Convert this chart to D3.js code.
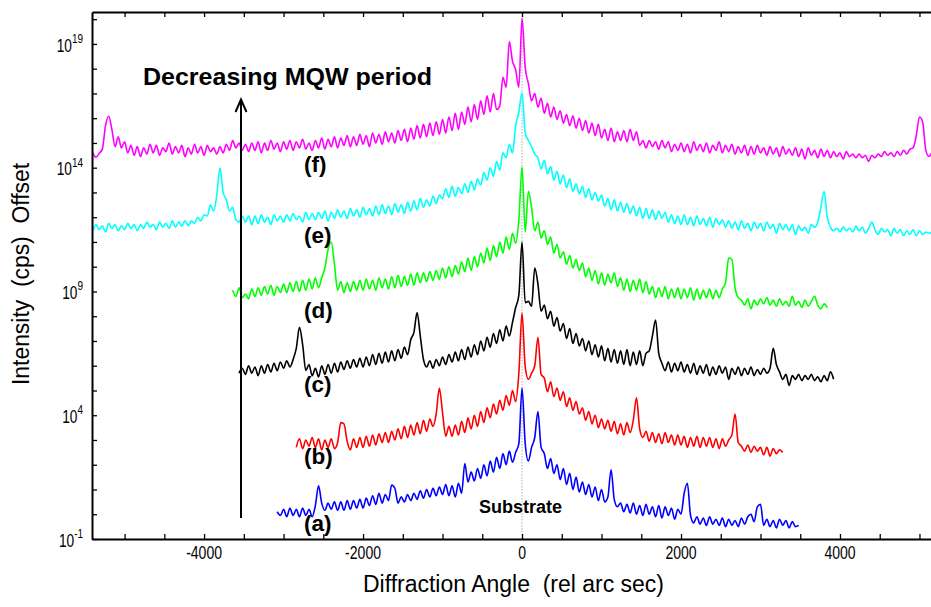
<!DOCTYPE html>
<html>
<head>
<meta charset="utf-8">
<script src="https://cdn.jsdelivr.net/npm/d3@7"></script>
<style>
  html, body { margin: 0; padding: 0; background: #fff; }
  svg { display: block; font-family: "Liberation Sans", Arial, sans-serif; }
</style>
</head>
<body>
<svg id="chart" width="931" height="607"></svg>
<script>
// ---- data -------------------------------------------------------------
// Scan grid: each curve is sampled every scanStep arc sec from its start angle.
const scanStep = 40;
const curveNames = ["(a)", "(b)", "(c)", "(d)", "(e)", "(f)"];
const curveColors = ["#0000ff", "#ff0000", "#000000", "#00ff00", "#00ffff", "#ff00ff"];
const curveStarts = [-3080, -2840, -3560, -3640, -5400, -5400];
// vertical offset applied to each scan (factor of 1000 between neighbours)
const curveOffsets = [1, 1e3, 1e6, 1e9, 1e12, 1e15];

// log10 of measured intensity (cps), one value per grid step
const logA = [
  0.10,-0.05,0.20,-0.10,0.25,-0.05,0.20,-0.10,0.25,-0.05,
  0.20,-0.10,0.35,1.15,0.45,0.15,0.45,0.20,0.50,0.15,
  0.50,0.15,0.55,0.20,0.55,0.25,0.60,0.25,0.65,0.35,
  0.75,0.40,0.85,0.45,0.80,0.55,1.18,1.05,0.45,0.70,
  0.50,0.80,0.55,0.85,0.60,0.95,0.65,1.00,0.70,1.05,
  0.75,1.10,0.80,1.20,0.75,1.15,0.70,1.25,0.85,2.05,
  1.30,1.70,1.35,1.85,1.45,2.00,1.55,2.15,1.70,2.30,
  1.85,2.45,2.00,2.55,2.10,2.50,2.85,5.10,2.85,2.15,
  2.70,3.10,4.15,2.70,2.45,1.85,2.25,1.65,2.00,1.40,
  1.85,1.20,1.65,1.00,1.50,0.90,1.30,0.80,1.20,0.70,
  1.10,0.55,1.00,0.50,0.70,1.80,0.60,0.30,0.45,0.10,
  0.40,0.05,0.45,0.00,0.35,-0.05,0.40,0.00,0.30,-0.10,
  0.35,-0.15,0.30,-0.05,0.25,-0.20,0.20,0.00,0.85,1.25,
  -0.05,-0.35,-0.10,-0.40,-0.15,-0.45,-0.10,-0.40,-0.20,-0.45,
  -0.15,-0.50,-0.20,-0.45,-0.25,-0.50,-0.15,-0.40,-0.10,0.00,
  -0.30,0.30,0.40,-0.45,-0.20,-0.50,-0.25,-0.55,-0.20,-0.45,
  -0.25,-0.55,-0.30,-0.50,-0.45
];
const logB = [
  -0.30,0.05,-0.35,0.00,-0.25,0.10,-0.30,0.05,-0.40,0.00,
  -0.30,0.05,-0.35,-0.10,0.70,0.65,-0.05,-0.40,0.05,-0.30,
  0.10,-0.30,0.15,-0.25,0.20,-0.20,0.25,-0.10,0.30,-0.10,
  0.35,0.00,0.45,0.05,0.55,0.10,0.60,0.20,0.70,0.25,
  0.80,0.35,0.85,0.55,1.05,2.10,1.10,0.15,0.55,0.15,
  0.60,0.20,0.75,0.30,0.90,0.45,1.00,0.55,1.15,0.70,
  1.30,0.90,1.45,1.05,1.60,1.20,1.80,1.40,2.00,1.55,
  2.70,5.13,2.95,2.45,2.70,3.00,4.15,2.65,2.50,1.95,
  2.35,1.75,2.10,1.60,1.95,1.35,1.70,1.20,1.55,1.05,
  1.30,0.80,1.15,0.65,1.00,0.50,0.85,0.45,0.80,0.35,
  0.75,0.25,0.65,0.20,0.70,0.30,0.80,1.70,0.45,0.10,
  0.35,-0.05,0.30,-0.10,0.25,-0.15,0.30,-0.10,0.20,-0.20,
  0.20,-0.20,0.15,-0.30,0.10,-0.25,0.15,-0.30,0.10,-0.25,
  0.10,-0.30,0.05,-0.35,0.05,-0.25,0.00,0.20,1.05,-0.10,
  -0.25,-0.45,-0.20,-0.50,-0.25,-0.45,-0.30,-0.60,-0.30,-0.65,
  -0.35,-0.55,-0.40,-0.50
];
const logC = [
  -0.30,-0.10,-0.35,0.00,-0.30,-0.05,-0.40,0.00,-0.30,0.05,
  -0.25,0.10,-0.20,0.15,-0.10,0.20,-0.05,0.25,0.70,1.55,
  0.85,-0.20,0.05,-0.40,-0.10,-0.45,0.00,-0.35,0.05,-0.30,
  0.10,-0.25,0.15,-0.15,0.20,-0.10,0.25,-0.05,0.30,-0.05,
  0.35,0.00,0.45,0.05,0.50,0.10,0.55,0.15,0.60,0.20,
  0.65,0.30,0.75,0.45,1.05,1.35,2.15,1.20,0.25,-0.05,
  0.20,-0.10,0.25,0.00,0.35,0.05,0.45,0.15,0.55,0.20,
  0.65,0.25,0.75,0.35,0.85,0.45,1.00,0.60,1.15,0.75,
  1.30,0.90,1.45,1.00,1.60,1.20,1.75,2.35,2.85,5.00,
  2.55,2.60,2.40,3.95,3.30,2.20,2.45,1.90,2.20,1.60,
  1.95,1.40,1.70,1.10,1.50,0.90,1.30,0.80,1.10,0.60,
  1.00,0.45,0.85,0.35,0.80,0.20,0.70,0.15,0.65,0.10,
  0.60,0.05,0.65,0.00,0.55,0.05,0.60,0.00,0.50,0.60,
  1.20,1.85,0.50,0.10,-0.20,0.15,-0.25,0.10,-0.20,0.15,
  -0.25,0.05,-0.30,0.10,-0.35,0.00,-0.30,0.05,-0.40,-0.05,
  -0.35,0.00,-0.30,-0.05,-0.55,-0.10,-0.35,-0.05,-0.40,-0.10,
  -0.35,-0.05,-0.40,-0.15,-0.35,-0.10,-0.30,-0.10,0.70,0.05,
  -0.25,-0.55,-0.35,-0.80,-0.40,-0.55,-0.35,-0.60,-0.40,-0.55,
  -0.35,-0.60,-0.45,-0.65,-0.40,-0.60,-0.25,-0.55
];
const logD = [
  0.05,-0.20,0.15,-0.25,-0.10,-0.30,0.10,-0.20,0.15,-0.15,
  0.20,-0.10,0.25,-0.15,0.20,-0.05,0.30,-0.05,0.35,0.00,
  0.40,0.00,0.45,0.05,0.50,0.10,0.55,0.15,0.55,0.95,
  1.70,2.00,1.10,0.05,0.40,-0.05,0.35,0.00,0.40,0.05,
  0.45,0.05,0.50,0.10,0.45,0.05,0.55,0.15,0.50,0.10,
  0.60,0.15,0.65,0.20,0.60,0.25,0.70,0.25,0.75,0.35,
  0.75,0.40,0.80,0.45,0.85,0.50,0.95,0.55,1.00,0.60,
  1.05,0.70,1.20,0.80,1.35,0.85,1.40,1.00,1.55,1.15,
  1.75,1.25,1.85,1.40,2.00,1.55,2.20,1.70,2.35,1.95,
  2.90,5.03,2.40,4.05,3.40,2.45,2.80,2.15,2.45,1.90,
  2.20,1.55,1.90,1.35,1.60,1.10,1.45,0.95,1.30,0.85,
  1.15,0.60,0.95,0.45,0.85,0.30,0.75,0.25,0.70,0.35,
  0.75,0.20,0.55,0.05,0.50,0.00,0.45,0.05,0.50,-0.05,
  0.40,-0.10,0.20,-0.25,0.15,-0.20,0.20,-0.30,0.10,-0.25,
  0.15,-0.30,0.10,-0.25,0.15,-0.35,0.10,-0.30,0.05,-0.25,
  0.10,-0.30,0.05,-0.25,0.10,0.35,1.35,1.30,0.15,-0.25,
  -0.35,-0.55,-0.30,-0.70,-0.35,-0.55,-0.30,-0.50,-0.25,-0.55,
  -0.35,-0.60,-0.30,-0.55,-0.40,-0.60,-0.20,-0.55,-0.40,-0.65,
  -0.35,-0.60,-0.40,-0.20,-0.55,-0.70,-0.50,-0.65
];
const logE = [
  -0.55,-0.30,-0.50,-0.35,-0.60,-0.25,-0.45,-0.30,-0.55,-0.35,
  -0.50,-0.25,-0.45,-0.30,-0.55,-0.30,-0.45,-0.20,-0.40,-0.30,
  -0.50,-0.20,-0.40,-0.25,-0.45,-0.15,-0.40,-0.20,-0.35,-0.15,
  -0.35,-0.15,-0.25,0.00,-0.15,0.10,0.05,0.50,0.25,0.90,
  1.99,1.00,0.70,0.25,0.40,-0.10,-0.20,0.05,-0.20,0.05,
  -0.30,0.05,-0.25,0.10,-0.20,0.00,-0.30,0.10,-0.15,0.05,
  -0.20,0.10,-0.15,0.15,-0.10,0.05,-0.20,0.20,-0.10,0.15,
  -0.10,0.20,-0.05,0.25,-0.15,0.20,-0.05,0.30,0.00,0.25,
  -0.05,0.35,0.05,0.30,0.00,0.40,0.10,0.35,0.05,0.45,
  0.10,0.50,0.15,0.45,0.10,0.55,0.20,0.50,0.15,0.60,
  0.25,0.65,0.30,0.75,0.40,0.70,0.45,0.85,0.55,0.90,
  0.75,1.15,0.80,1.25,0.85,1.20,0.95,1.35,1.00,1.45,
  1.10,1.55,1.30,1.80,1.50,2.00,1.65,2.25,1.90,2.60,
  2.40,2.95,2.60,3.70,4.25,5.02,3.40,3.10,2.85,2.55,
  2.40,1.95,2.30,1.75,2.05,1.50,1.85,1.35,1.70,1.20,
  1.55,1.05,1.35,0.95,1.25,0.80,1.15,0.70,1.00,0.65,
  0.90,0.45,0.75,0.30,0.70,0.25,0.60,0.20,0.55,0.15,
  0.45,0.05,0.40,-0.05,0.35,-0.05,0.30,-0.10,0.25,-0.05,
  0.20,-0.20,0.10,-0.25,0.05,-0.30,0.10,-0.30,0.00,-0.35,
  0.05,-0.30,-0.05,-0.35,0.00,-0.40,-0.05,-0.30,-0.10,-0.40,
  -0.15,-0.45,-0.20,-0.50,-0.15,-0.45,-0.25,-0.55,-0.20,-0.45,
  -0.25,-0.55,-0.20,-0.45,-0.30,-0.65,-0.25,-0.50,-0.30,-0.55,
  -0.30,-0.70,-0.35,-0.55,-0.40,-0.65,-0.30,-0.40,-0.20,0.40,
  1.05,0.00,-0.40,-0.55,-0.45,-0.60,-0.40,-0.55,-0.45,-0.60,
  -0.35,-0.55,-0.40,-0.65,-0.45,-0.20,-0.50,-0.70,-0.45,-0.60,
  -0.50,-0.75,-0.45,-0.65,-0.50,-0.75,-0.55,-0.70,-0.50,-0.75,
  -0.55,-0.70,-0.60,-0.65,-0.60
];
const logF = [
  -0.40,-0.58,-0.42,-0.25,0.70,1.08,0.55,-0.15,0.25,-0.20,
  0.05,-0.40,-0.10,-0.50,-0.15,-0.55,-0.20,-0.45,-0.05,-0.40,
  -0.10,-0.50,-0.20,-0.35,0.00,-0.45,-0.15,-0.40,-0.10,-0.55,
  -0.20,-0.45,-0.05,-0.40,-0.15,-0.50,-0.10,-0.35,-0.20,-0.45,
  -0.15,-0.40,-0.05,-0.30,0.10,-0.20,0.00,-0.30,-0.05,-0.35,
  0.00,-0.30,0.05,-0.40,0.00,-0.30,0.10,-0.25,0.00,-0.35,
  0.05,-0.25,0.10,-0.30,0.05,-0.20,0.15,-0.25,0.00,-0.30,
  0.10,-0.20,0.20,-0.25,0.15,-0.15,0.25,-0.20,0.20,-0.10,
  0.30,-0.15,0.25,-0.10,0.35,-0.05,0.30,-0.15,0.40,0.00,
  0.35,-0.05,0.45,0.05,0.40,0.00,0.50,0.10,0.55,0.05,
  0.60,0.15,0.70,0.20,0.75,0.25,0.80,0.30,0.85,0.35,
  0.95,0.40,1.05,0.50,1.20,0.55,1.25,0.75,1.45,0.85,
  1.55,0.95,1.70,1.15,1.90,1.25,2.00,1.35,1.50,2.65,
  2.25,4.10,3.30,2.95,2.25,5.05,3.05,2.40,1.70,2.00,
  1.45,1.80,1.20,1.60,1.05,1.45,0.95,1.30,0.80,1.15,
  0.70,1.10,0.60,1.00,0.50,0.90,0.40,0.80,0.30,0.75,
  0.20,0.55,0.10,0.60,0.05,0.45,0.10,0.50,0.05,0.55,
  0.10,0.45,-0.10,0.10,-0.20,0.10,-0.15,0.05,-0.25,0.10,
  -0.20,0.05,-0.35,-0.05,-0.30,0.00,-0.35,-0.05,-0.40,0.05,
  -0.30,-0.05,-0.35,0.00,-0.40,-0.10,-0.30,0.05,-0.40,-0.10,
  -0.35,-0.05,-0.45,-0.15,-0.40,-0.10,-0.50,-0.15,-0.45,-0.10,
  -0.40,-0.20,-0.50,-0.15,-0.45,-0.20,-0.55,-0.15,-0.45,-0.25,
  -0.50,-0.20,-0.55,-0.25,-0.65,-0.20,-0.50,-0.30,-0.60,-0.25,
  -0.55,-0.30,-0.60,-0.35,-0.55,-0.40,-0.65,-0.35,-0.55,-0.45,
  -0.60,-0.45,-0.60,-0.50,-0.75,-0.50,-0.60,-0.45,-0.55,-0.35,
  -0.50,-0.40,-0.55,-0.35,-0.50,-0.30,-0.45,-0.25,-0.20,0.30,
  1.05,0.85,-0.30,-0.55,-0.35
];
const curveLogs = [logA, logB, logC, logD, logE, logF];

// axis ticks
const xMinorTicks = d3.range(-5000, 5001, 500);
const xLabelTicks = [-4000, -2000, 0, 2000, 4000];
const yDecadeExps = d3.range(-1, 21);
const yLabelExps = [-1, 4, 9, 14, 19];

// baselines (pixels) for the curve letters
const curveLetterY = [531, 464, 392, 318, 243, 172];

// ---- layout -----------------------------------------------------------
const W = 931, H = 607;
const L = 92, R = 931, T = 12, B = 539;

const svg = d3.select("#chart");
svg.append("rect").attr("width", W).attr("height", H).attr("fill", "#fff");

const x = d3.scaleLinear().domain([-5410, 5145]).range([L, R]);
const y = d3.scaleLog().domain([0.1, Math.pow(10, 20.29)]).range([B, T]);

svg.append("defs").append("clipPath").attr("id", "plotClip")
  .append("rect").attr("x", L).attr("y", T).attr("width", R - L).attr("height", B - T);

// substrate reference line at 0 arc sec
svg.append("line")
  .attr("x1", x(0)).attr("x2", x(0)).attr("y1", T).attr("y2", B)
  .attr("stroke", "#b0b0b0").attr("stroke-width", 1).attr("stroke-dasharray", "1.5,1.5");

// ---- curves -----------------------------------------------------------
const line = d3.line().x(d => x(d[0])).y(d => y(d[1])).curve(d3.curveMonotoneX);
const curves = svg.append("g").attr("clip-path", "url(#plotClip)");
curveLogs.forEach((logs, k) => {
  const pts = logs.map((v, i) => [curveStarts[k] + i * scanStep, Math.pow(10, v) * curveOffsets[k]]);
  curves.append("path")
    .datum(pts)
    .attr("d", line)
    .attr("fill", "none")
    .attr("stroke", curveColors[k])
    .attr("stroke-width", 1.6)
    .attr("stroke-linejoin", "round");
});

// ---- axes -------------------------------------------------------------
const axisStyle = g => {
  g.select(".domain").attr("stroke", "#000").attr("stroke-width", 2);
  g.selectAll(".tick line").attr("stroke", "#000").attr("stroke-width", 1.3);
};
svg.append("g").attr("transform", `translate(0,${B})`)
  .call(d3.axisBottom(x).tickValues(xMinorTicks).tickSize(-5).tickSizeOuter(0).tickFormat(""))
  .call(axisStyle);
svg.append("g").attr("transform", `translate(0,${T})`)
  .call(d3.axisTop(x).tickValues(xMinorTicks).tickSize(-5).tickSizeOuter(0).tickFormat(""))
  .call(axisStyle);
svg.append("g").attr("transform", `translate(${L},0)`)
  .call(d3.axisLeft(y).tickValues(yDecadeExps.map(e => Math.pow(10, e))).tickSize(-5).tickSizeOuter(0).tickFormat(""))
  .call(axisStyle);

// x tick labels
svg.append("g").selectAll("text").data(xLabelTicks).join("text")
  .attr("transform", d => `translate(${x(d)},${B + 20}) scale(0.78,1)`)
  .attr("text-anchor", "middle")
  .attr("font-size", 18)
  .text(d => d);

// y tick labels: 10 with superscript exponent
const yl = svg.append("g").selectAll("text").data(yLabelExps).join("text")
  .attr("transform", e => `translate(${L - 9},${y(Math.pow(10, e)) + 7.7}) scale(0.74,1)`)
  .attr("text-anchor", "end");
yl.append("tspan").attr("font-size", 18.5).text("10");
yl.append("tspan").attr("font-size", 13.5).attr("dy", -8.7).text(e => e);

// axis titles
svg.append("text")
  .attr("x", 513.5).attr("y", 592)
  .attr("text-anchor", "middle")
  .attr("font-size", 23)
  .attr("textLength", 301).attr("lengthAdjust", "spacingAndGlyphs")
  .style("white-space", "pre")
  .text("Diffraction Angle  (rel arc sec)");
svg.append("text")
  .attr("transform", "translate(29,274) rotate(-90)")
  .attr("text-anchor", "middle")
  .attr("font-size", 23)
  .attr("textLength", 222).attr("lengthAdjust", "spacingAndGlyphs")
  .style("white-space", "pre")
  .text("Intensity  (cps)  Offset");

// ---- annotations ------------------------------------------------------
svg.append("text")
  .attr("x", 143).attr("y", 85)
  .attr("font-size", 24).attr("font-weight", "bold")
  .attr("textLength", 289).attr("lengthAdjust", "spacingAndGlyphs")
  .text("Decreasing MQW period");

const arrow = svg.append("g").attr("stroke", "#000").attr("stroke-width", 2).attr("fill", "none");
arrow.append("line").attr("x1", 241).attr("x2", 241).attr("y1", 518).attr("y2", 100);
arrow.append("path").attr("d", "M235.5,112 L241,99.5 L246.5,112");

svg.append("g").selectAll("text").data(curveNames).join("text")
  .attr("x", 304).attr("y", (d, i) => curveLetterY[i])
  .attr("font-size", 22.5).attr("font-weight", "bold")
  .text(d => d);

svg.append("text")
  .attr("x", 520.5).attr("y", 513)
  .attr("text-anchor", "middle")
  .attr("font-size", 18).attr("font-weight", "bold")
  .text("Substrate");
</script>
</body>
</html>
